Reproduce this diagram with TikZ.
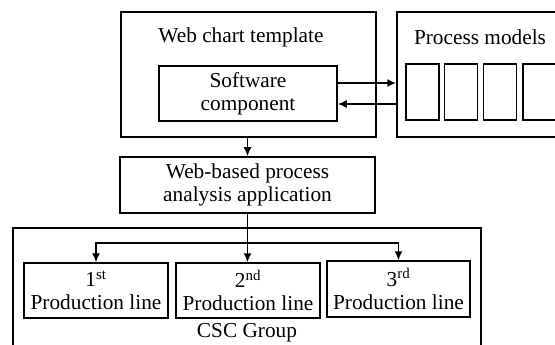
\documentclass[tikz,border=0pt]{standalone}
\usepackage{fontspec}
\setmainfont{Liberation Serif}
\usetikzlibrary{arrows.meta,calc}
\begin{document}
\begin{tikzpicture}[x=1pt,y=-1pt,
 box/.style={draw,line width=1.5pt,inner sep=0pt,align=center,font=\fontsize{21.3}{23}\selectfont},
 lbl/.style={inner sep=0pt,font=\fontsize{21.3}{23}\selectfont},
 arr/.style={line width=1.6pt,-{Latex[length=9pt,width=8pt]}}]
\useasboundingbox (0,0) rectangle (555,345);
\fill[white] (0,0) rectangle (555,345);
% top row
\node[box,minimum width=255pt,minimum height=125pt] (wct) at (248.5,74.5) {};
\node[lbl] (wctl) at (241,37) {Web chart template};
\node[box,minimum width=178pt,minimum height=55pt] (sw) at (248,93.5) {Software\\component};
\node[box,minimum width=168pt,minimum height=125pt] (pm) at (481,74.5) {};
\node[lbl] (pml) at (480,37) {Process models};
\node[box,minimum width=33pt,minimum height=56pt] (m1) at (422.5,92) {};
\node[box,minimum width=33pt,minimum height=56pt] (m2) at (461,92) {};
\node[box,minimum width=33pt,minimum height=56pt] (m3) at (500,92) {};
\node[box,minimum width=38pt,minimum height=56pt] (m4) at (542,92) {};
% middle
\node[box,minimum width=255pt,minimum height=56pt] (wba) at (247.5,185) {Web-based process\\analysis application};
% bottom
\node[box,minimum width=468pt,minimum height=124pt] (csc) at (247,290) {};
\node[lbl] (cscl) at (247,333) {CSC Group};
\node[box,minimum width=144pt,minimum height=55pt] (p1) at (96,290.5) {1\textsuperscript{st}\\Production line};
\node[box,minimum width=144pt,minimum height=55pt] (p2) at (248,290.5) {2\textsuperscript{nd}\\Production line};
\node[box,minimum width=143pt,minimum height=56pt] (p3) at (398.5,289) {3\textsuperscript{rd}\\Production line};
% connectors
\draw[arr] ([yshift=10.5pt]sw.east) -- ([yshift=10.5pt]sw.east -| pm.west);
\draw[arr] ([yshift=-10.5pt]sw.east -| pm.west) -- ([yshift=-10.5pt]sw.east);
\draw[arr] (wct.south -| wba.north) -- (wba.north);
\draw[arr] (wba.south) -- (wba.south |- p2.north);
\coordinate (j) at ($(wba.south)+(0,29)$);
\draw[arr] (j) -| (p1.north);
\draw[arr] (j) -| (p3.north);
\end{tikzpicture}
\end{document}
